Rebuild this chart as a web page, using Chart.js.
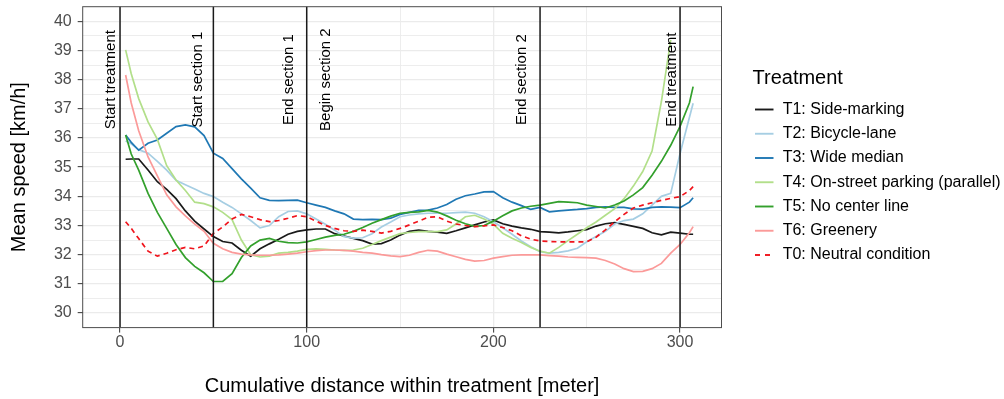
<!DOCTYPE html>
<html>
<head>
<meta charset="utf-8">
<script src="https://cdn.jsdelivr.net/npm/chart.js@4/dist/chart.umd.min.js"></script>
<style>
  html, body { margin: 0; padding: 0; background: #ffffff; }
  #wrap { width: 1004px; height: 399px; }
</style>
</head>
<body>
<div id="wrap"><canvas id="c" width="1004" height="399"></canvas></div>
<script>
// ---------------- data ----------------
const distance = [3, 6, 10, 15, 20, 25, 30, 35, 40, 45, 50, 55, 60, 65, 70, 75, 80, 85, 90, 95,
  100, 105, 110, 115, 120, 125, 130, 135, 140, 145, 150, 155, 160, 165, 170, 175, 180, 185, 190, 195,
  200, 205, 210, 215, 220, 225, 230, 235, 240, 245, 250, 255, 260, 265, 270, 275, 280, 285, 290, 295,
  300, 305, 307];

const t1SideMarking = [35.27, 35.28, 35.28, 34.9, 34.5, 34.24, 33.92, 33.5, 33.15, 32.88, 32.62, 32.45, 32.4, 32.15, 31.95, 32.2, 32.37, 32.53, 32.7, 32.8,
  32.85, 32.88, 32.88, 32.72, 32.64, 32.56, 32.48, 32.36, 32.38, 32.5, 32.67, 32.8, 32.84, 32.8, 32.77, 32.73, 32.82, 32.92, 33.02, 33.12,
  33.19, 33.06, 32.98, 32.92, 32.87, 32.79, 32.77, 32.75, 32.78, 32.82, 32.86, 32.98, 33.06, 33.1, 33.04, 32.97, 32.9, 32.75, 32.68, 32.77,
  32.74, 32.7, 32.7];

const t2BicycleLane = [35.9, 35.8, 35.6, 35.48, 35.2, 34.9, 34.55, 34.4, 34.25, 34.1, 33.99, 33.8, 33.62, 33.4, 33.17, 32.92, 33.0, 33.3, 33.48, 33.5,
  33.4, 33.22, 33.04, 32.84, 32.62, 32.57, 32.58, 32.72, 32.95, 33.12, 33.3, 33.36, 33.4, 33.42, 33.42, 33.42, 33.44, 33.46, 33.42, 33.3,
  33.13, 32.92, 32.7, 32.47, 32.27, 32.1, 32.05, 32.08, 32.13, 32.22, 32.44, 32.62, 32.8, 33.05, 33.17, 33.22, 33.4, 33.7, 34.0, 34.1,
  35.47, 36.7, 37.19];

const t3WideMedian = [36.1, 35.85, 35.58, 35.82, 35.93, 36.16, 36.39, 36.45, 36.38, 36.08, 35.48, 35.3, 34.95, 34.6, 34.28, 33.95, 33.86, 33.85, 33.86, 33.87,
  33.78, 33.7, 33.62, 33.5, 33.4, 33.22, 33.2, 33.21, 33.2, 33.25, 33.38, 33.45, 33.52, 33.53, 33.6, 33.72, 33.9, 34.02, 34.08, 34.15,
  34.16, 33.95, 33.8, 33.68, 33.55, 33.62, 33.47, 33.5, 33.53, 33.55, 33.58, 33.62, 33.64, 33.62, 33.62, 33.57, 33.56, 33.62, 33.64, 33.63,
  33.61, 33.8, 33.95];

const t4OnStreetParking = [39.02, 38.2, 37.35, 36.55, 35.95, 35.05, 34.56, 34.2, 33.8, 33.75, 33.64, 33.45, 33.2, 32.5, 32.0, 31.92, 31.95, 32.05, 32.08, 32.12,
  32.18, 32.2, 32.18, 32.16, 32.15, 32.16, 32.22, 32.35, 32.48, 32.6, 32.72, 32.76, 32.79, 32.79, 32.79, 32.85, 33.05, 33.3, 33.35, 33.22,
  33.05, 32.73, 32.56, 32.42, 32.25, 32.12, 32.05, 32.25, 32.48, 32.7, 32.92, 33.12, 33.35, 33.58, 33.92, 34.35, 34.85, 35.55, 37.25, 39.36,
  null, null, null];

const t5NoCenterLine = [36.1, 35.45, 34.9, 34.1, 33.45, 32.9, 32.35, 31.9, 31.6, 31.38, 31.08, 31.08, 31.35, 31.9, 32.3, 32.5, 32.56, 32.46, 32.41, 32.4,
  32.44, 32.52, 32.6, 32.66, 32.7, 32.8, 32.93, 33.08, 33.2, 33.32, 33.42, 33.45, 33.47, 33.52, 33.46, 33.33, 33.18, 33.06, 32.97, 33.0,
  33.15, 33.33, 33.5, 33.6, 33.66, 33.7, 33.76, 33.82, 33.8, 33.78, 33.7, 33.65, 33.6, 33.7, 33.84, 34.05, 34.3, 34.72, 35.2, 35.75,
  36.4, 37.2, 37.76];

const t6Greenery = [38.16, 37.2, 36.25, 35.35, 34.7, 34.05, 33.64, 33.33, 33.05, 32.8, 32.39, 32.2, 32.08, 32.02, 31.99, 31.98, 31.98, 31.99, 32.02, 32.05,
  32.1, 32.14, 32.16, 32.16, 32.15, 32.12, 32.08, 32.05, 32.0, 31.96, 31.93, 31.98, 32.08, 32.15, 32.12, 32.02, 31.93, 31.84, 31.78, 31.8,
  31.88, 31.93, 31.98, 31.99, 31.99, 31.99, 31.97, 31.95, 31.92, 31.91, 31.9, 31.88, 31.8, 31.68, 31.52, 31.42, 31.43, 31.52, 31.7, 32.05,
  32.35, 32.75, 32.96];

const t0Neutral = [33.13, 32.9, 32.55, 32.12, 31.95, 32.05, 32.17, 32.25, 32.2, 32.3, 32.73, 32.95, 33.22, 33.38, 33.3, 33.2, 33.13, 33.17, 33.25, 33.34,
  33.3, 33.15, 33.0, 32.9, 32.82, 32.8, 32.84, 32.8, 32.74, 32.8, 32.9, 33.02, 33.15, 33.28, 33.3, 33.15, 33.05, 33.0, 32.96, 32.99,
  33.02, 32.93, 32.82, 32.65, 32.53, 32.47, 32.45, 32.44, 32.44, 32.44, 32.44, 32.6, 32.85, 33.13, 33.38, 33.6, 33.7, 33.78, 33.86, 33.93,
  33.99, 34.2, 34.33];

const seriesNames = ['T1: Side-marking', 'T2: Bicycle-lane', 'T3: Wide median',
  'T4: On-street parking (parallel)', 'T5: No center line', 'T6: Greenery', 'T0: Neutral condition'];
const seriesValues = [t1SideMarking, t2BicycleLane, t3WideMedian, t4OnStreetParking, t5NoCenterLine, t6Greenery, t0Neutral];
const seriesColors = ['#1a1a1a', '#A6CEE3', '#1F78B4', '#B2DF8A', '#33A02C', '#FB9A99', '#F0141C'];

const xTickLabels = [0, 100, 200, 300];
const xMinorGrid = [50, 150, 250];
const yTickLabels = [30, 31, 32, 33, 34, 35, 36, 37, 38, 39, 40];
const yMinorGrid = [30.5, 31.5, 32.5, 33.5, 34.5, 35.5, 36.5, 37.5, 38.5, 39.5];

const markerPositions = [0, 50, 100, 225, 300];
const markerLabels = ['Start treatment', 'Start section 1', 'End section 1', 'Begin section 2', 'End section 2', 'End treatment'];
const markerLabelX = [-4.8, 41.8, 90.5, 110.3, 215.4, 295.5];
const markerLabelY = [38, 38, 38, 38, 38, 38];

const legendTitle = 'Treatment';
const xTitle = 'Cumulative distance within treatment [meter]';
const yTitle = 'Mean speed [km/h]';

// ---------------- chart ----------------
const FONT = "'Liberation Sans', Arial, Helvetica, sans-serif";
Chart.defaults.font.family = FONT;

function buildTicks(majors, minors) {
  return majors.map(v => ({ value: v, isMajor: true }))
    .concat(minors.map(v => ({ value: v, isMajor: false })))
    .sort((a, b) => a.value - b.value);
}

const datasets = seriesNames.map((name, i) => ({
  label: name,
  data: seriesValues[i],
  borderColor: seriesColors[i],
  backgroundColor: seriesColors[i],
  borderWidth: 1.7,
  borderDash: i === 6 ? [5, 4] : [],
  pointRadius: 0,
  tension: 0,
  fill: false,
  spanGaps: false,
  order: seriesNames.length - 1 - i
}));

const overlayPlugin = {
  id: 'overlay',
  afterDatasetsDraw(chart) {
    const { ctx, chartArea: a, scales: { x, y } } = chart;
    ctx.save();
    // vertical marker lines
    ctx.strokeStyle = '#1a1a1a';
    ctx.lineWidth = 1.5;
    markerPositions.forEach(v => {
      const px = x.getPixelForValue(v);
      ctx.beginPath();
      ctx.moveTo(px, a.top);
      ctx.lineTo(px, a.bottom);
      ctx.stroke();
    });
    // rotated labels
    ctx.fillStyle = '#000';
    ctx.font = '15px ' + FONT;
    ctx.textAlign = 'center';
    ctx.textBaseline = 'middle';
    markerLabels.forEach((t, i) => {
      const px = x.getPixelForValue(markerLabelX[i]);
      const py = y.getPixelForValue(markerLabelY[i]);
      ctx.save();
      ctx.translate(px, py);
      ctx.rotate(-Math.PI / 2);
      ctx.fillText(t, 0, 0);
      ctx.restore();
    });
    // panel border
    ctx.strokeStyle = '#4d4d4d';
    ctx.lineWidth = 1;
    ctx.strokeRect(a.left, a.top, a.right - a.left, a.bottom - a.top);
    ctx.restore();
  },
  afterDraw(chart) {
    const ctx = chart.ctx;
    ctx.save();
    ctx.fillStyle = '#000';
    ctx.font = '20px ' + FONT;
    ctx.textAlign = 'left';
    ctx.textBaseline = 'alphabetic';
    ctx.fillText(legendTitle, 752.5, 84);
    ctx.font = '16px ' + FONT;
    ctx.textBaseline = 'middle';
    seriesNames.forEach((name, i) => {
      const cy = 109.5 + i * 24.25;
      ctx.strokeStyle = seriesColors[i];
      ctx.lineWidth = 1.9;
      ctx.setLineDash(i === 6 ? [5, 5] : []);
      ctx.beginPath();
      ctx.moveTo(755, cy);
      ctx.lineTo(773.5, cy);
      ctx.stroke();
      ctx.setLineDash([]);
      ctx.fillText(name, 782.7, cy);
    });
    ctx.restore();
  }
};

new Chart(document.getElementById('c'), {
  type: 'line',
  data: { labels: distance, datasets },
  options: {
    responsive: false,
    devicePixelRatio: 1,
    animation: false,
    layout: { padding: { left: 0, right: 282.5, top: 6.7, bottom: 0 } },
    plugins: { legend: { display: false }, tooltip: { enabled: false } },
    scales: {
      x: {
        type: 'linear',
        min: -20,
        max: 322.2,
        afterBuildTicks: s => { s.ticks = buildTicks(xTickLabels, xMinorGrid); },
        afterFit: s => { s.height = 71.4; s.paddingLeft = 0; s.paddingRight = 0; },
        ticks: {
          autoSkip: false,
          maxRotation: 0,
          padding: 0,
          color: '#4D4D4D',
          font: { size: 16 },
          callback: (v, i, t) => (t[i] && t[i].isMajor ? String(v) : '')
        },
        grid: {
          color: '#EBEBEB',
          lineWidth: c => (c.tick && c.tick.isMajor ? 1.3 : 0.9),
          tickLength: 5,
          tickColor: c => (c.tick && c.tick.isMajor ? '#333333' : 'rgba(0,0,0,0)'),
          tickWidth: 1
        },
        border: { display: false },
        title: {
          display: true,
          text: xTitle,
          color: '#000',
          font: { size: 20 },
          padding: { top: 0, bottom: 0.6 }
        }
      },
      y: {
        type: 'linear',
        min: 29.5,
        max: 40.5,
        afterBuildTicks: s => { s.ticks = buildTicks(yTickLabels, yMinorGrid); },
        afterFit: s => { s.width = 82.7; s.paddingTop = 0; s.paddingBottom = 0; },
        ticks: {
          autoSkip: false,
          padding: 6,
          color: '#4D4D4D',
          font: { size: 16 },
          callback: (v, i, t) => (t[i] && t[i].isMajor ? String(v) : '')
        },
        grid: {
          color: '#EBEBEB',
          lineWidth: c => (c.tick && c.tick.isMajor ? 1.3 : 0.9),
          tickLength: 5,
          tickColor: c => (c.tick && c.tick.isMajor ? '#333333' : 'rgba(0,0,0,0)'),
          tickWidth: 1
        },
        border: { display: false },
        title: {
          display: true,
          text: yTitle,
          color: '#000',
          font: { size: 20 },
          padding: { top: 7, bottom: 0 }
        }
      }
    }
  },
  plugins: [overlayPlugin]
});
</script>
</body>
</html>
